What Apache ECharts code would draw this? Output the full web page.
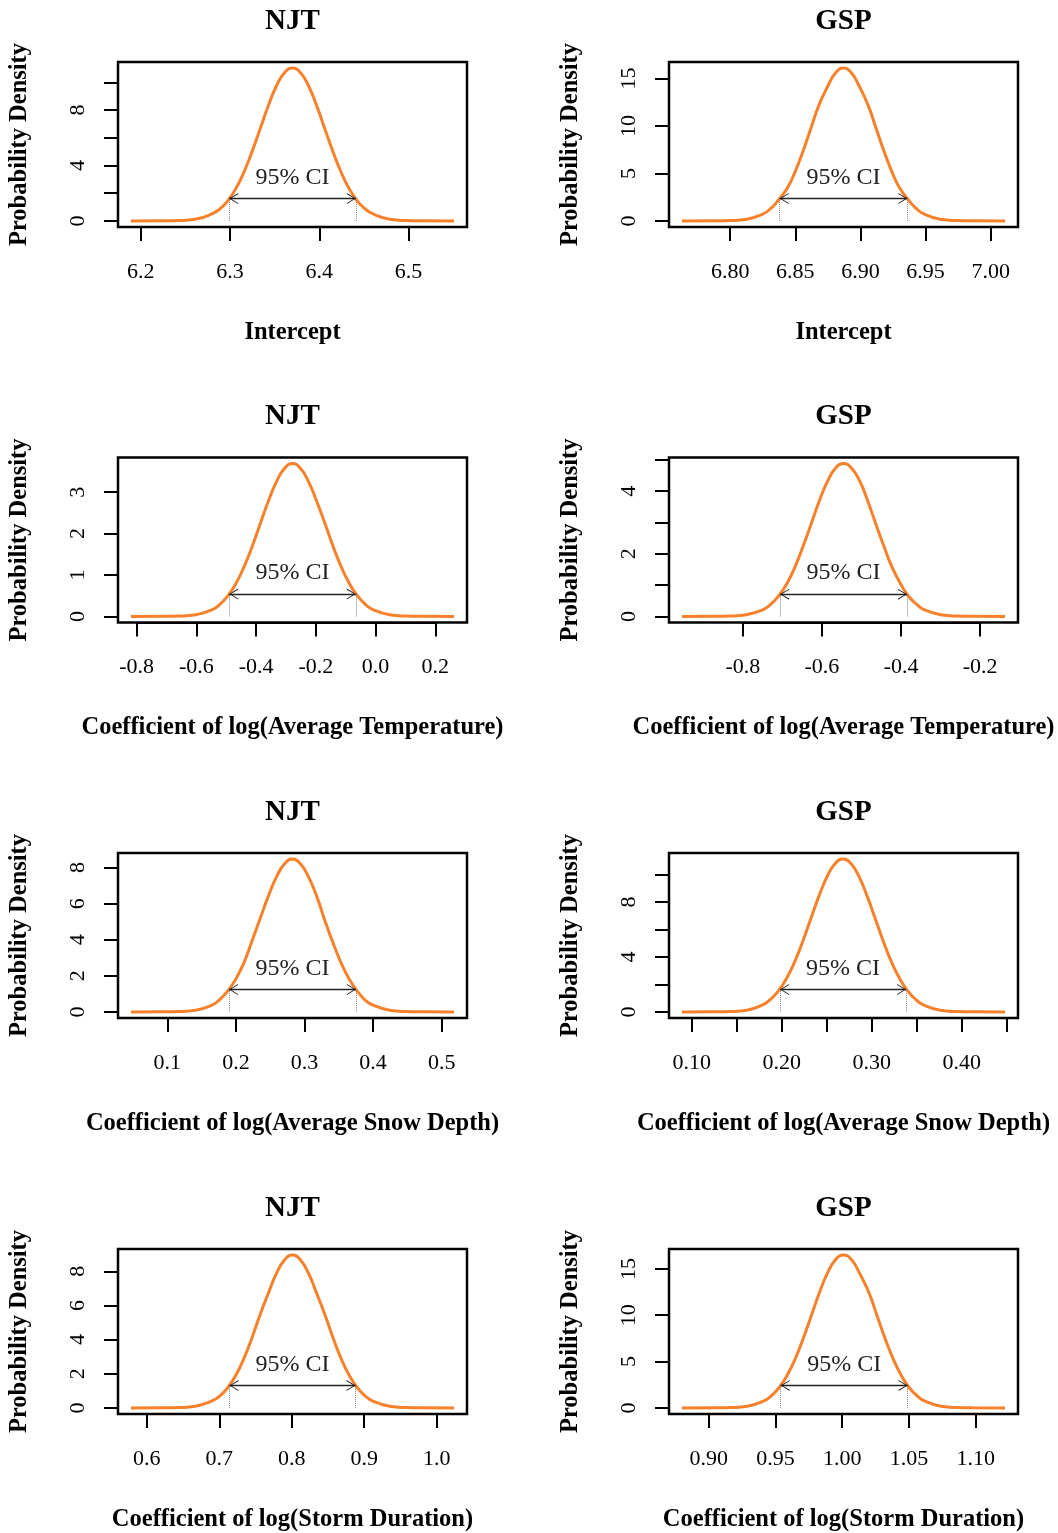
<!DOCTYPE html>
<html>
<head>
<meta charset="utf-8">
<title>Posterior densities NJT / GSP</title>
<script src="https://cdn.jsdelivr.net/npm/echarts@6/dist/echarts.min.js"></script>
<style>html,body{margin:0;padding:0;background:#fff;}</style>
</head>
<body>
<div id="main" style="width:1058px;height:1533px;"></div>
<script type="text/javascript">
// titles
var stationTitles = ['NJT', 'GSP'];
var xTitles = ['Intercept', 'Coefficient of log(Average Temperature)', 'Coefficient of log(Average Snow Depth)', 'Coefficient of log(Storm Duration)'];
var yTitle = 'Probability Density';

// density curves (x, density)
var njtInterceptX = [6.189, 6.225, 6.243, 6.261, 6.279, 6.289, 6.298, 6.307, 6.316, 6.325, 6.334, 6.343, 6.352, 6.361, 6.370, 6.379, 6.388, 6.397, 6.406, 6.415, 6.424, 6.433, 6.442, 6.451, 6.461, 6.479, 6.497, 6.515, 6.551];
var njtInterceptY = [0, 0.004, 0.024, 0.12, 0.48, 0.88, 1.49, 2.38, 3.58, 5.05, 6.68, 8.32, 9.73, 10.68, 11.02, 10.68, 9.73, 8.32, 6.68, 5.05, 3.58, 2.38, 1.49, 0.88, 0.48, 0.12, 0.024, 0.004, 0];
var gspInterceptX = [6.763, 6.788, 6.800, 6.813, 6.825, 6.831, 6.837, 6.844, 6.850, 6.856, 6.862, 6.868, 6.875, 6.881, 6.887, 6.893, 6.899, 6.906, 6.912, 6.918, 6.924, 6.930, 6.937, 6.943, 6.949, 6.961, 6.974, 6.986, 7.011];
var gspInterceptY = [0, 0.005, 0.035, 0.18, 0.71, 1.28, 2.18, 3.48, 5.22, 7.37, 9.76, 12.14, 14.20, 15.59, 16.09, 15.59, 14.20, 12.14, 9.76, 7.37, 5.22, 3.48, 2.18, 1.28, 0.71, 0.18, 0.035, 0.005, 0];
var njtTempX = [-0.819, -0.710, -0.656, -0.602, -0.548, -0.521, -0.494, -0.467, -0.440, -0.413, -0.386, -0.359, -0.332, -0.305, -0.278, -0.251, -0.224, -0.197, -0.169, -0.142, -0.115, -0.088, -0.061, -0.034, -0.007, 0.047, 0.101, 0.155, 0.263];
var njtTempY = [0, 0.001, 0.008, 0.041, 0.16, 0.29, 0.50, 0.80, 1.20, 1.69, 2.24, 2.78, 3.25, 3.57, 3.69, 3.57, 3.25, 2.78, 2.24, 1.69, 1.20, 0.80, 0.50, 0.29, 0.16, 0.041, 0.008, 0.001, 0];
var gspTempX = [-0.954, -0.872, -0.832, -0.791, -0.750, -0.729, -0.709, -0.688, -0.668, -0.648, -0.627, -0.607, -0.586, -0.566, -0.545, -0.525, -0.504, -0.484, -0.464, -0.443, -0.423, -0.402, -0.382, -0.361, -0.341, -0.300, -0.259, -0.218, -0.137];
var gspTempY = [0, 0.002, 0.011, 0.054, 0.21, 0.39, 0.66, 1.06, 1.58, 2.23, 2.96, 3.68, 4.31, 4.73, 4.88, 4.73, 4.31, 3.68, 2.96, 2.23, 1.58, 1.06, 0.66, 0.39, 0.21, 0.054, 0.011, 0.002, 0];
var njtSnowX = [0.047, 0.094, 0.117, 0.141, 0.165, 0.176, 0.188, 0.200, 0.212, 0.223, 0.235, 0.247, 0.259, 0.271, 0.282, 0.294, 0.306, 0.318, 0.329, 0.341, 0.353, 0.365, 0.377, 0.388, 0.400, 0.424, 0.447, 0.471, 0.518];
var njtSnowY = [0, 0.003, 0.019, 0.094, 0.37, 0.67, 1.15, 1.83, 2.75, 3.88, 5.14, 6.39, 7.47, 8.21, 8.47, 8.21, 7.47, 6.39, 5.14, 3.88, 2.75, 1.83, 1.15, 0.67, 0.37, 0.094, 0.019, 0.003, 0];
var gspSnowX = [0.089, 0.125, 0.143, 0.161, 0.178, 0.187, 0.196, 0.205, 0.214, 0.223, 0.232, 0.241, 0.250, 0.259, 0.268, 0.277, 0.286, 0.295, 0.304, 0.313, 0.322, 0.331, 0.340, 0.349, 0.358, 0.376, 0.394, 0.412, 0.448];
var gspSnowY = [0, 0.004, 0.024, 0.12, 0.49, 0.89, 1.51, 2.41, 3.61, 5.09, 6.74, 8.39, 9.81, 10.78, 11.12, 10.78, 9.81, 8.39, 6.74, 5.09, 3.61, 2.41, 1.51, 0.89, 0.49, 0.12, 0.024, 0.004, 0];
var njtStormX = [0.578, 0.623, 0.645, 0.667, 0.689, 0.701, 0.712, 0.723, 0.734, 0.745, 0.756, 0.768, 0.779, 0.790, 0.801, 0.812, 0.823, 0.834, 0.846, 0.857, 0.868, 0.879, 0.890, 0.901, 0.912, 0.935, 0.957, 0.979, 1.024];
var njtStormY = [0, 0.003, 0.020, 0.099, 0.39, 0.71, 1.21, 1.93, 2.90, 4.10, 5.43, 6.75, 7.89, 8.67, 8.95, 8.67, 7.89, 6.75, 5.43, 4.10, 2.90, 1.93, 1.21, 0.71, 0.39, 0.099, 0.020, 0.003, 0];
var gspStormX = [0.880, 0.905, 0.917, 0.929, 0.941, 0.947, 0.953, 0.959, 0.965, 0.971, 0.977, 0.983, 0.989, 0.995, 1.001, 1.007, 1.013, 1.020, 1.026, 1.032, 1.038, 1.044, 1.050, 1.056, 1.062, 1.074, 1.086, 1.098, 1.122];
var gspStormY = [0, 0.006, 0.036, 0.18, 0.72, 1.31, 2.23, 3.57, 5.35, 7.55, 10.00, 12.45, 14.55, 15.98, 16.49, 15.98, 14.55, 12.45, 10.00, 7.55, 5.35, 3.57, 2.23, 1.31, 0.72, 0.18, 0.036, 0.006, 0];

// 95% CI: lower, upper, density at the bounds
var njtInterceptCI = [6.299, 6.441, 1.61];
var gspInterceptCI = [6.838, 6.936, 2.36];
var njtTempCI = [-0.490, -0.066, 0.54];
var gspTempCI = [-0.706, -0.385, 0.71];
var njtSnowCI = [0.190, 0.375, 1.24];
var gspSnowCI = [0.198, 0.338, 1.63];
var njtStormCI = [0.714, 0.888, 1.31];
var gspStormCI = [0.954, 1.049, 2.42];

// tick marks and which of them carry a label
var njtInterceptXTicks = [6.2, 6.3, 6.4, 6.5];
var njtInterceptXLabels = ['6.2', '6.3', '6.4', '6.5'];
var njtInterceptYTicks = [0, 2, 4, 6, 8, 10];
var njtInterceptYLabels = ['0', '4', '8'];
var gspInterceptXTicks = [6.80, 6.85, 6.90, 6.95, 7.00];
var gspInterceptXLabels = ['6.80', '6.85', '6.90', '6.95', '7.00'];
var gspInterceptYTicks = [0, 5, 10, 15];
var gspInterceptYLabels = ['0', '5', '10', '15'];
var njtTempXTicks = [-0.8, -0.6, -0.4, -0.2, 0.0, 0.2];
var njtTempXLabels = ['-0.8', '-0.6', '-0.4', '-0.2', '0.0', '0.2'];
var njtTempYTicks = [0, 1, 2, 3];
var njtTempYLabels = ['0', '1', '2', '3'];
var gspTempXTicks = [-0.8, -0.6, -0.4, -0.2];
var gspTempXLabels = ['-0.8', '-0.6', '-0.4', '-0.2'];
var gspTempYTicks = [0, 1, 2, 3, 4, 5];
var gspTempYLabels = ['0', '2', '4'];
var njtSnowXTicks = [0.1, 0.2, 0.3, 0.4, 0.5];
var njtSnowXLabels = ['0.1', '0.2', '0.3', '0.4', '0.5'];
var njtSnowYTicks = [0, 2, 4, 6, 8];
var njtSnowYLabels = ['0', '2', '4', '6', '8'];
var gspSnowXTicks = [0.10, 0.15, 0.20, 0.25, 0.30, 0.35, 0.40, 0.45];
var gspSnowXLabels = ['0.10', '0.20', '0.30', '0.40'];
var gspSnowYTicks = [0, 2, 4, 6, 8, 10];
var gspSnowYLabels = ['0', '4', '8'];
var njtStormXTicks = [0.6, 0.7, 0.8, 0.9, 1.0];
var njtStormXLabels = ['0.6', '0.7', '0.8', '0.9', '1.0'];
var njtStormYTicks = [0, 2, 4, 6, 8];
var njtStormYLabels = ['0', '2', '4', '6', '8'];
var gspStormXTicks = [0.90, 0.95, 1.00, 1.05, 1.10];
var gspStormXLabels = ['0.90', '0.95', '1.00', '1.05', '1.10'];
var gspStormYTicks = [0, 5, 10, 15];
var gspStormYLabels = ['0', '5', '10', '15'];

var panels = [
    {x: njtInterceptX, y: njtInterceptY, ci: njtInterceptCI, xt: njtInterceptXTicks, xl: njtInterceptXLabels, yt: njtInterceptYTicks, yl: njtInterceptYLabels},
    {x: gspInterceptX, y: gspInterceptY, ci: gspInterceptCI, xt: gspInterceptXTicks, xl: gspInterceptXLabels, yt: gspInterceptYTicks, yl: gspInterceptYLabels},
    {x: njtTempX, y: njtTempY, ci: njtTempCI, xt: njtTempXTicks, xl: njtTempXLabels, yt: njtTempYTicks, yl: njtTempYLabels},
    {x: gspTempX, y: gspTempY, ci: gspTempCI, xt: gspTempXTicks, xl: gspTempXLabels, yt: gspTempYTicks, yl: gspTempYLabels},
    {x: njtSnowX, y: njtSnowY, ci: njtSnowCI, xt: njtSnowXTicks, xl: njtSnowXLabels, yt: njtSnowYTicks, yl: njtSnowYLabels},
    {x: gspSnowX, y: gspSnowY, ci: gspSnowCI, xt: gspSnowXTicks, xl: gspSnowXLabels, yt: gspSnowYTicks, yl: gspSnowYLabels},
    {x: njtStormX, y: njtStormY, ci: njtStormCI, xt: njtStormXTicks, xl: njtStormXLabels, yt: njtStormYTicks, yl: njtStormYLabels},
    {x: gspStormX, y: gspStormY, ci: gspStormCI, xt: gspStormXTicks, xl: gspStormXLabels, yt: gspStormYTicks, yl: gspStormYLabels}
];

// layout
var boxW = 349, boxH = 165;
var colLeft = [118, 669];
var rowTop = [62, 457.5, 853, 1249];
var font = 'Liberation Serif';
var orange = '#F7812B';
// open arrow head, tip at the symbol centre (tiny dot on top only sets the box)
var arrowHead = 'path://M5,0 L5.02,0 L5,0.02 Z M0,20 L5,10 L10,20 L9,20 L5,11.8 L1,20 Z';

function fmt(labels) {
    var parts = labels[0].split('.');
    var d = parts.length > 1 ? parts[1].length : 0;
    return function (v) {
        if (Math.abs(v) < 1e-9) v = 0;
        var s = v.toFixed(d);
        return labels.indexOf(s) >= 0 ? s : '';
    };
}
function step(t) { return Math.round((t[1] - t[0]) * 1e6) / 1e6; }

var option = {animation: false, backgroundColor: '#fff', title: [], grid: [], xAxis: [], yAxis: [], series: []};

panels.forEach(function (p, i) {
    var L = colLeft[i % 2], T = rowTop[Math.floor(i / 2)];
    var x0 = p.x[0], x1 = p.x[p.x.length - 1];
    var xmin = x0 - 0.04 * (x1 - x0), xmax = x1 + 0.04 * (x1 - x0);
    var peak = Math.max.apply(null, p.y);
    var ymin = -0.04 * peak, ymax = 1.04 * peak;
    var xa = p.xt[0], xb = p.xt[p.xt.length - 1];
    var yb = p.yt[p.yt.length - 1];
    var g = option.grid.length;

    option.title.push({
        text: stationTitles[i % 2], left: L + boxW / 2, top: T - 55, textAlign: 'center', padding: 0,
        textStyle: {fontFamily: font, fontWeight: 'bold', fontSize: 29, color: '#000'}
    });

    // plot box, x axis strip, y axis strip
    option.grid.push({left: L, top: T, width: boxW, height: boxH, show: true, borderColor: '#000', borderWidth: 2.5, outerBoundsMode: 'none'});
    option.grid.push({left: L + (xa - xmin) / (xmax - xmin) * boxW, top: T, width: (xb - xa) / (xmax - xmin) * boxW, height: boxH, outerBoundsMode: 'none'});
    option.grid.push({left: L, top: T + (ymax - yb) / (ymax - ymin) * boxH, width: boxW, height: yb / (ymax - ymin) * boxH, outerBoundsMode: 'none'});

    option.xAxis.push({
        gridIndex: g, type: 'value', min: xmin, max: xmax,
        axisLine: {show: false}, axisTick: {show: false}, axisLabel: {show: false}, splitLine: {show: false},
        name: xTitles[Math.floor(i / 2)], nameLocation: 'middle', nameGap: 93,
        nameTextStyle: {fontFamily: font, fontWeight: 'bold', fontSize: 24.5, color: '#000'}
    });
    option.xAxis.push({
        gridIndex: g + 1, type: 'value', min: xa, max: xb, interval: step(p.xt),
        axisLine: {show: true, lineStyle: {color: '#000', width: 2}},
        axisTick: {show: true, length: 14, lineStyle: {color: '#000', width: 2}},
        axisLabel: {margin: 34, fontFamily: font, fontSize: 22, color: '#000', formatter: fmt(p.xl)},
        splitLine: {show: false}
    });
    option.xAxis.push({gridIndex: g + 2, type: 'value', show: false});

    option.yAxis.push({
        gridIndex: g, type: 'value', min: ymin, max: ymax,
        axisLine: {show: false}, axisTick: {show: false}, axisLabel: {show: false}, splitLine: {show: false},
        name: yTitle, nameLocation: 'middle', nameGap: 86,
        nameTextStyle: {fontFamily: font, fontWeight: 'bold', fontSize: 24.5, color: '#000'}
    });
    option.yAxis.push({gridIndex: g + 1, type: 'value', show: false});
    option.yAxis.push({
        gridIndex: g + 2, type: 'value', min: 0, max: yb, interval: step(p.yt),
        axisLine: {show: true, lineStyle: {color: '#000', width: 2}},
        axisTick: {show: true, length: 14, lineStyle: {color: '#000', width: 2}},
        axisLabel: {margin: 29, rotate: 90, fontFamily: font, fontSize: 22, color: '#000', formatter: fmt(p.yl)},
        splitLine: {show: false}
    });

    var lo = p.ci[0], hi = p.ci[1], h = p.ci[2];
    option.series.push({
        type: 'line', xAxisIndex: g, yAxisIndex: g, silent: true,
        data: p.x.map(function (v, k) { return [v, p.y[k]]; }),
        showSymbol: false, smooth: 0.5,
        lineStyle: {color: orange, width: 3},
        markLine: {
            silent: true, symbol: 'none', animation: false,
            data: [
                [{coord: [lo, 0], lineStyle: {type: 'dotted', color: '#8a8a8a', width: 1}, label: {show: false}}, {coord: [lo, h]}],
                [{coord: [hi, 0], lineStyle: {type: 'dotted', color: '#8a8a8a', width: 1}, label: {show: false}}, {coord: [hi, h]}],
                [{
                    coord: [lo, h], symbol: arrowHead, symbolSize: [11, 18],
                    lineStyle: {type: 'solid', color: '#222', width: 1.4},
                    label: {show: true, position: 'middle', formatter: '95% CI', distance: 9, fontFamily: font, fontSize: 24, color: '#222'}
                }, {coord: [hi, h], symbol: arrowHead, symbolSize: [11, 18]}]
            ]
        }
    });
});

var chart = echarts.init(document.getElementById('main'));
chart.setOption(option);
</script>
</body>
</html>
